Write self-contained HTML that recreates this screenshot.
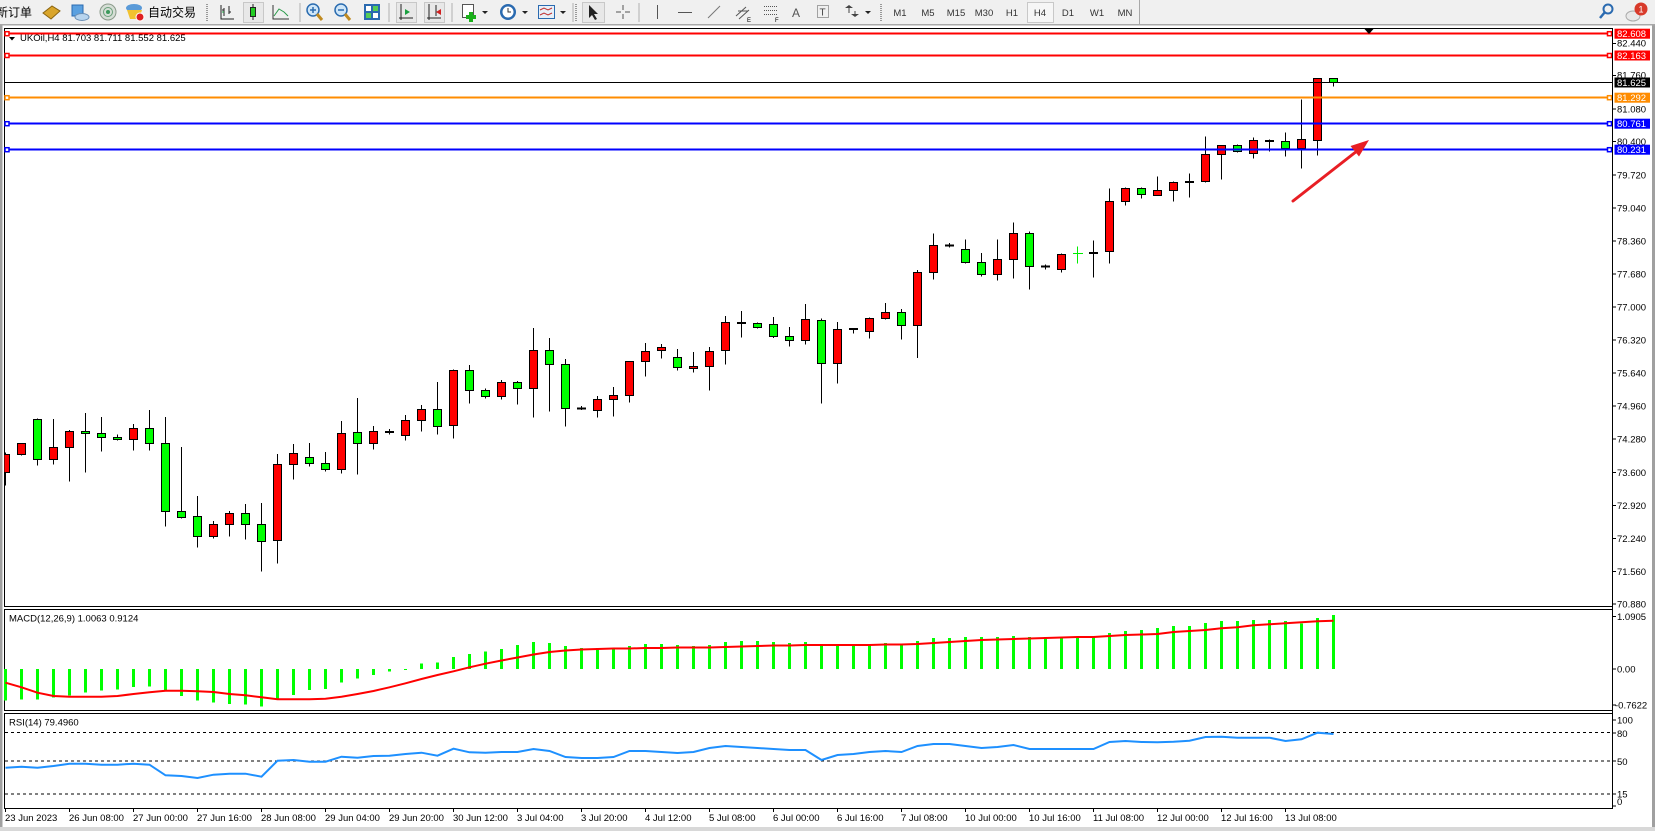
<!DOCTYPE html>
<html><head><meta charset="utf-8"><style>
html,body{margin:0;padding:0;width:1655px;height:831px;overflow:hidden;background:#fff}
svg{display:block}
text{font-family:"Liberation Sans","Noto Sans CJK SC",sans-serif;font-size:9.5px;fill:#000}
.tb{fill:#333}
.cjk{font-family:"Liberation Sans","Noto Sans CJK SC",sans-serif;font-size:12px;fill:#000}
</style></head><body>
<svg width="1655" height="831" viewBox="0 0 1655 831" xmlns="http://www.w3.org/2000/svg">
<defs><clipPath id="mc"><rect x="4.5" y="28.5" width="1608" height="578"/></clipPath></defs>
<!-- toolbar -->
<rect x="0" y="0" width="1655" height="25" fill="#f0f0f0"/>
<rect x="0" y="24" width="1655" height="1.5" fill="#a8a8a8"/>
<text class="cjk" x="-4" y="16.5">新订单</text>
<path d="M43 13L52 6L60 11L51 19Z" fill="#d9a52b" stroke="#8a6410"/>
<rect x="72" y="5" width="11" height="11" fill="#5aa0e0" stroke="#2a6ab0"/>
<ellipse cx="82" cy="17" rx="7" ry="3.5" fill="#b8d4ee" stroke="#6b8fb5"/>
<circle cx="108" cy="12" r="8" fill="#d6ded6" stroke="#8a9a8a"/><circle cx="108" cy="12" r="4.5" fill="none" stroke="#6aa07a"/><circle cx="108" cy="12" r="2" fill="#3a9a5a"/>
<ellipse cx="134" cy="8" rx="8" ry="4" fill="#5a9ad8"/><path d="M127 10h15l-3 9h-9z" fill="#f2c230"/><circle cx="140" cy="17" r="4" fill="#e02020" stroke="#fff"/>
<text class="cjk" x="148" y="16.5">自动交易</text>
<path d="M207 4v18" stroke="#999" stroke-dasharray="1 1" stroke-width="2"/>
<path d="M221 5V19H234M224 8V16M222 10h2M229 6V14M229 12h2" stroke="#222" fill="none"/><path d="M224 12h-2" stroke="#1aa040"/>
<rect x="243.5" y="2.5" width="20" height="20" fill="#e8e8e8" stroke="#c8c8c8"/>
<path d="M253 4V20" stroke="#222"/><rect x="250.5" y="7.5" width="5" height="9" fill="#22cc22" stroke="#222"/>
<path d="M273 5V19H289" stroke="#333" fill="none"/><path d="M274 16L279 9L284 12L288 16" stroke="#2a9a4a" fill="none"/>
<path d="M300 3v19" stroke="#b0b0b0"/>
<circle cx="313" cy="10" r="6" fill="#cfe6f8" stroke="#2b6cb0" stroke-width="1.5"/><path d="M317 14L322 20" stroke="#c08a20" stroke-width="3"/><path d="M310 10h6M313 7v6" stroke="#2b6cb0" stroke-width="1.5"/>
<circle cx="341" cy="10" r="6" fill="#cfe6f8" stroke="#2b6cb0" stroke-width="1.5"/><path d="M345 14L350 20" stroke="#c08a20" stroke-width="3"/><path d="M338 10h6" stroke="#2b6cb0" stroke-width="1.5"/>
<rect x="364" y="4" width="16" height="16" fill="#2a6ab0"/><rect x="366" y="6" width="5" height="5" fill="#fff"/><rect x="373" y="6" width="5" height="5" fill="#5c5"/><rect x="366" y="13" width="5" height="5" fill="#5c5"/><rect x="373" y="13" width="5" height="5" fill="#fff"/>
<path d="M389 3v19" stroke="#b0b0b0"/>
<rect x="396.5" y="2.5" width="20" height="20" fill="#e8e8e8" stroke="#c8c8c8"/>
<path d="M401 4V20M399 18h14" stroke="#222"/><path d="M405 9l5 3-5 3z" fill="#1aa040"/>
<rect x="424.5" y="2.5" width="20" height="20" fill="#e8e8e8" stroke="#c8c8c8"/>
<path d="M429 4V20M427 18h14M436 5v11" stroke="#222"/><path d="M441 9l-5 3 5 3z" fill="#d02020"/>
<path d="M452 3v19" stroke="#b0b0b0"/>
<rect x="462.5" y="4.5" width="11" height="13" fill="#fff" stroke="#555"/><path d="M471 12v10M466 17h10" stroke="#1ab01a" stroke-width="4"/>
<path d="M482 11h6l-3 3z" fill="#222"/>
<circle cx="508" cy="12" r="8" fill="#2a6ab0"/><circle cx="508" cy="12" r="5.5" fill="#fff"/><path d="M508 8v4h3" stroke="#333" fill="none"/>
<path d="M522 11h6l-3 3z" fill="#222"/>
<rect x="538.5" y="5.5" width="16" height="13" fill="#e8f0f8" stroke="#2a6ab0"/><path d="M540 10l4 -2 4 2 4-2M540 15l4-2 4 2 4-2" stroke="#c03030" fill="none"/>
<path d="M560 11h6l-3 3z" fill="#222"/>
<path d="M573 3v19" stroke="#b0b0b0"/><path d="M576 4v18" stroke="#999" stroke-dasharray="1 1" stroke-width="2"/>
<rect x="582.5" y="2.5" width="22" height="20" fill="#e8e8e8" stroke="#c8c8c8"/>
<path d="M589 5V18L592 15L595 20L597 19L594 14L598 14Z" fill="#222"/>
<path d="M623 5v5M623 14v5M616 12h5M625 12h5" stroke="#555"/>
<path d="M639 3v19" stroke="#b0b0b0"/>
<path d="M657.5 5v14" stroke="#555"/>
<path d="M678 12.5h14" stroke="#555"/>
<path d="M708 18L720 6" stroke="#777"/>
<path d="M736 16l10-9M739 19l10-9M738 11h10" stroke="#555" fill="none"/><text x="747" y="22" style="font-size:6px">E</text>
<path d="M764 6.5h14M764 10.5h14M764 14.5h14" stroke="#555" stroke-dasharray="1 1"/><text x="775" y="22" style="font-size:6px">F</text>
<text x="792" y="17" style="font-size:12px;fill:#555">A</text>
<rect x="817.5" y="5.5" width="11" height="12" fill="none" stroke="#555" stroke-dasharray="1 1"/><text x="819.5" y="15.5" style="font-size:10px;fill:#444">T</text>
<path d="M845 8l4-3 4 3zM851 14l4 3 4-3z" fill="#444"/><path d="M849 8v5M855 11v4" stroke="#444"/>
<path d="M865 11h6l-3 3z" fill="#222"/>
<path d="M881 4v18" stroke="#999" stroke-dasharray="1 1" stroke-width="2"/>
<text class="tb" x="900" y="16" text-anchor="middle">M1</text>
<text class="tb" x="928" y="16" text-anchor="middle">M5</text>
<text class="tb" x="956" y="16" text-anchor="middle">M15</text>
<text class="tb" x="984" y="16" text-anchor="middle">M30</text>
<text class="tb" x="1012" y="16" text-anchor="middle">H1</text>
<rect x="1027.5" y="2.5" width="26" height="20" fill="#f6f6f6" stroke="#c8c8c8"/>
<text class="tb" x="1040" y="16" text-anchor="middle">H4</text>
<text class="tb" x="1068" y="16" text-anchor="middle">D1</text>
<text class="tb" x="1097" y="16" text-anchor="middle">W1</text>
<text class="tb" x="1125" y="16" text-anchor="middle">MN</text>
<path d="M1139.5 0v24" stroke="#a8a8a8"/>
<circle cx="1608" cy="9" r="4.5" fill="none" stroke="#2a6ab0" stroke-width="2"/><path d="M1605 12L1600 18" stroke="#2a6ab0" stroke-width="2.5"/>
<ellipse cx="1633" cy="16" rx="7" ry="5" fill="#e8e8e8" stroke="#aaa"/><circle cx="1641" cy="9" r="6.5" fill="#d83a2a"/><text x="1641" y="12.5" text-anchor="middle" style="fill:#fff;font-size:9px">1</text>

<!-- window edges -->
<rect x="0" y="25.5" width="2.5" height="806" fill="#a0a0a0"/>
<rect x="1652" y="25.5" width="3" height="806" fill="#a0a0a0"/>
<rect x="0" y="827" width="1655" height="4" fill="#d8d8d8"/>

<!-- panel frames -->
<g fill="none" stroke="#000" stroke-width="1" shape-rendering="crispEdges">
<rect x="4.5" y="28.5" width="1608" height="578"/>
<rect x="4.5" y="609.5" width="1608" height="101"/>
<rect x="4.5" y="713.5" width="1608" height="95"/>
</g>

<!-- candles -->
<g clip-path="url(#mc)" shape-rendering="crispEdges">
<path stroke="#000" stroke-width="1" fill="none" d="M5.5 452.3V485.7M21.5 443.3V455.7M37.5 418.3V465.7M53.5 419V464.7M69.5 430V481.7M85.5 413V472.7M101.5 417V451.7M117.5 434.3V440.7M133.5 424V450.7M149.5 410V450.7M165.5 417V526.7M181.5 447V518.7M197.5 496V547.7M213.5 521V538.7M229.5 511V536.7M245.5 504V539.7M261.5 503V571.7M277.5 454V563.7M293.5 444V479.7M309.5 443V466.7M325.5 452V471.7M341.5 421V473.7M357.5 398V474.7M373.5 426V449.7M389.5 429V434.7M405.5 415V440.7M421.5 405V431.7M437.5 382V434.7M453.5 369.3V438.7M469.5 365V403.7M485.5 388.7V398.7M501.5 380V399.7M517.5 381V404.7M533.5 328V417.7M549.5 338V411.7M565.5 359V426.7M581.5 406V410M597.5 396V417.7M613.5 387V416.7M629.5 361.3V402.7M645.5 343V376.7M661.5 344V358.7M677.5 349V370.7M693.5 352V372.7M709.5 347V390.7M725.5 316V364.7M741.5 311V337.7M757.5 322.3V328.7M773.5 317V338M789.5 327V346.7M805.5 304V344.7M821.5 318.3V403.7M837.5 322V383.7M853.5 328.3V333.7M869.5 317.3V338.7M885.5 303V319.3M901.5 309V339.7M917.5 270V358M933.5 233.3V279.7M949.5 243V247.7M965.5 239.3V263.7M981.5 253V276.7M997.5 239.3V280.7M1013.5 222.3V278.7M1029.5 231.7V289.7M1045.5 264.3V269.3M1061.5 253.3V272.7M1093.5 240.3V277.7M1109.5 188.3V263.7M1125.5 187.3V205.7M1141.5 187.7V198.7M1157.5 176.3V195.3M1173.5 181.3V201.7M1189.5 173.3V197.7M1205.5 136.3V182.7M1221.5 145.3V179.7M1237.5 144.3V152.3M1253.5 137.3V158.7M1269.5 139.3V151.3M1285.5 132.3V156.7M1301.5 99.3V168.3M1317.5 78.3V155.7M1333.5 78.3V86.7"/>
<g fill="#ff0000" stroke="#000" stroke-width="1">
<rect x="1.5" y="454.3" width="8" height="18"/>
<rect x="17.5" y="443.3" width="8" height="11"/>
<rect x="49.5" y="447.3" width="8" height="12"/>
<rect x="65.5" y="431.3" width="8" height="16"/>
<rect x="129.5" y="428.3" width="8" height="11"/>
<rect x="209.5" y="524.3" width="8" height="12"/>
<rect x="225.5" y="513.3" width="8" height="11"/>
<rect x="273.5" y="464.3" width="8" height="76"/>
<rect x="289.5" y="453.3" width="8" height="11"/>
<rect x="337.5" y="433.3" width="8" height="36"/>
<rect x="369.5" y="431.3" width="8" height="12"/>
<rect x="401.5" y="420.3" width="8" height="15"/>
<rect x="417.5" y="409.3" width="8" height="11"/>
<rect x="449.5" y="370.3" width="8" height="55"/>
<rect x="497.5" y="382.3" width="8" height="14"/>
<rect x="529.5" y="350.3" width="8" height="38"/>
<rect x="593.5" y="399.3" width="8" height="11"/>
<rect x="609.5" y="395.3" width="8" height="4"/>
<rect x="625.5" y="361.3" width="8" height="34"/>
<rect x="641.5" y="351.3" width="8" height="10"/>
<rect x="657.5" y="347.3" width="8" height="3"/>
<rect x="689.5" y="366.3" width="8" height="2"/>
<rect x="705.5" y="351.3" width="8" height="15"/>
<rect x="721.5" y="322.3" width="8" height="28"/>
<rect x="801.5" y="319.3" width="8" height="21"/>
<rect x="833.5" y="329.3" width="8" height="34"/>
<rect x="865.5" y="318.3" width="8" height="13"/>
<rect x="881.5" y="312.3" width="8" height="6"/>
<rect x="913.5" y="272.3" width="8" height="53.4"/>
<rect x="929.5" y="245.3" width="8" height="27"/>
<rect x="993.5" y="259.3" width="8" height="15"/>
<rect x="1009.5" y="233.3" width="8" height="26"/>
<rect x="1057.5" y="254.3" width="8" height="15"/>
<rect x="1105.5" y="201.3" width="8" height="50"/>
<rect x="1121.5" y="188.3" width="8" height="13"/>
<rect x="1153.5" y="190.3" width="8" height="5"/>
<rect x="1169.5" y="182.3" width="8" height="8"/>
<rect x="1201.5" y="154.3" width="8" height="27"/>
<rect x="1217.5" y="145.3" width="8" height="9"/>
<rect x="1249.5" y="140.3" width="8" height="13"/>
<rect x="1297.5" y="139.3" width="8" height="9"/>
<rect x="1313.5" y="78.3" width="8" height="62"/>
</g>
<g fill="#00ff00" stroke="#000" stroke-width="1">
<rect x="33.5" y="419.3" width="8" height="40"/>
<rect x="81.5" y="431.3" width="8" height="2"/>
<rect x="97.5" y="433.3" width="8" height="4"/>
<rect x="113.5" y="437.3" width="8" height="2"/>
<rect x="145.5" y="428.3" width="8" height="15"/>
<rect x="161.5" y="443.3" width="8" height="68"/>
<rect x="177.5" y="511.3" width="8" height="6"/>
<rect x="193.5" y="516.3" width="8" height="20"/>
<rect x="241.5" y="513.3" width="8" height="11"/>
<rect x="257.5" y="524.3" width="8" height="17"/>
<rect x="305.5" y="457.3" width="8" height="6"/>
<rect x="321.5" y="463.3" width="8" height="6"/>
<rect x="353.5" y="432.3" width="8" height="11"/>
<rect x="433.5" y="409.3" width="8" height="17"/>
<rect x="465.5" y="370.3" width="8" height="20"/>
<rect x="481.5" y="390.3" width="8" height="6"/>
<rect x="513.5" y="382.3" width="8" height="6"/>
<rect x="545.5" y="350.3" width="8" height="14"/>
<rect x="561.5" y="364.3" width="8" height="44"/>
<rect x="673.5" y="357.3" width="8" height="10"/>
<rect x="753.5" y="323.3" width="8" height="4"/>
<rect x="769.5" y="324.3" width="8" height="12"/>
<rect x="785.5" y="336.3" width="8" height="4"/>
<rect x="817.5" y="320.3" width="8" height="43"/>
<rect x="897.5" y="312.3" width="8" height="13.4"/>
<rect x="961.5" y="249.3" width="8" height="13"/>
<rect x="977.5" y="262.3" width="8" height="12"/>
<rect x="1025.5" y="233.3" width="8" height="33"/>
<rect x="1137.5" y="188.3" width="8" height="6"/>
<rect x="1233.5" y="145.3" width="8" height="6"/>
<rect x="1281.5" y="141.3" width="8" height="7"/>
<rect x="1329.5" y="78.3" width="8" height="4"/>
</g>
<g fill="#000">
<rect x="385" y="431" width="9" height="2"/>
<rect x="577" y="407.5" width="9" height="2"/>
<rect x="737" y="322" width="9" height="2"/>
<rect x="849" y="328" width="9" height="2"/>
<rect x="945" y="244.5" width="9" height="2"/>
<rect x="1041" y="265.5" width="9" height="2"/>
<rect x="1089" y="252" width="9" height="2"/>
<rect x="1185" y="181" width="9" height="2"/>
<rect x="1265" y="140" width="9" height="2"/>
</g>
<path d="M1077.5 246.3V263.7M1073 253.5h10" stroke="#00ee00" stroke-width="1"/>

<!-- horizontal objects -->
<path d="M4 33.7H1612" stroke="#ff0000" stroke-width="2"/>
<path d="M4 55.5H1612" stroke="#ff0000" stroke-width="2"/>
<path d="M4 82.5H1612" stroke="#000" stroke-width="1"/>
<path d="M4 97.7H1612" stroke="#ff8c00" stroke-width="2"/>
<path d="M4 123.7H1612" stroke="#0000ff" stroke-width="2"/>
<path d="M4 149.7H1612" stroke="#0000ff" stroke-width="2"/>
</g>
<g fill="#fff" stroke-width="1.5">
<rect x="5" y="31.7" width="4" height="4" stroke="#ff0000"/>
<rect x="5" y="53.5" width="4" height="4" stroke="#ff0000"/>
<rect x="5" y="95.7" width="4" height="4" stroke="#ff8c00"/>
<rect x="5" y="121.7" width="4" height="4" stroke="#0000ff"/>
<rect x="5" y="147.7" width="4" height="4" stroke="#0000ff"/>
<rect x="1607.5" y="31.7" width="4" height="4" stroke="#ff0000"/>
<rect x="1607.5" y="53.5" width="4" height="4" stroke="#ff0000"/>
<rect x="1607.5" y="95.7" width="4" height="4" stroke="#ff8c00"/>
<rect x="1607.5" y="121.7" width="4" height="4" stroke="#0000ff"/>
<rect x="1607.5" y="147.7" width="4" height="4" stroke="#0000ff"/>
</g>

<!-- arrow and marker -->
<path d="M1293 201L1357 151" stroke="#e81e24" stroke-width="3" stroke-linecap="round"/>
<path d="M1369 140L1359 156.5L1350.5 146Z" fill="#e81e24"/>
<path d="M1364.5 29L1373.5 29L1369 34Z" fill="#000"/>

<!-- info text -->
<path d="M9 37h6l-3 3.5z" fill="#000"/>
<text x="20" y="41">UKOil,H4  81.703 81.711 81.552 81.625</text>

<!-- right axis -->
<path d="M1612.5 28V809" stroke="#000" stroke-width="1" shape-rendering="crispEdges"/>
<path stroke="#000" stroke-width="1" shape-rendering="crispEdges" d="M1613 43.5h3M1613 75.5h3M1613 109h3M1613 141.5h3M1613 175h3M1613 208h3M1613 241h3M1613 274h3M1613 307h3M1613 340h3M1613 373h3M1613 406h3M1613 439h3M1613 472.5h3M1613 505.5h3M1613 538.5h3M1613 571.5h3M1613 604h3M1613 616.5h3M1613 669h3M1613 705h3M1613 720h3M1613 733h3M1613 761h3M1613 794h3M1613 806h3"/>
<text x="1617" y="46.7">82.440</text>
<text x="1617" y="78.7">81.760</text>
<text x="1617" y="112.4">81.080</text>
<text x="1617" y="145">80.400</text>
<text x="1617" y="178.5">79.720</text>
<text x="1617" y="211.5">79.040</text>
<text x="1617" y="244.5">78.360</text>
<text x="1617" y="277.5">77.680</text>
<text x="1617" y="310.5">77.000</text>
<text x="1617" y="343.5">76.320</text>
<text x="1617" y="376.5">75.640</text>
<text x="1617" y="409.5">74.960</text>
<text x="1617" y="442.7">74.280</text>
<text x="1617" y="475.8">73.600</text>
<text x="1617" y="509">72.920</text>
<text x="1617" y="542">72.240</text>
<text x="1617" y="575">71.560</text>
<text x="1617" y="607.4">70.880</text>
<rect x="1614.5" y="28.7" width="35.5" height="10" fill="#ff0000"/><text x="1617" y="37.1" style="fill:#fff">82.608</text>
<rect x="1614.5" y="50.5" width="35.5" height="10" fill="#ff0000"/><text x="1617" y="58.9" style="fill:#fff">82.163</text>
<rect x="1614.5" y="77.5" width="35.5" height="10" fill="#000"/><text x="1617" y="85.9" style="fill:#fff">81.625</text>
<rect x="1614.5" y="92.7" width="35.5" height="10" fill="#ff8c00"/><text x="1617" y="101.1" style="fill:#fff">81.292</text>
<rect x="1614.5" y="118.7" width="35.5" height="10" fill="#0000ff"/><text x="1617" y="127.1" style="fill:#fff">80.761</text>
<rect x="1614.5" y="144.7" width="35.5" height="10" fill="#0000ff"/><text x="1617" y="153.1" style="fill:#fff">80.231</text>

<!-- MACD -->
<text x="9" y="621.5">MACD(12,26,9) 1.0063 0.9124</text>
<path stroke="#00ff00" stroke-width="3" fill="none" shape-rendering="crispEdges" d="M5.5 669V700.7M21.5 669V699.3M37.5 669V699.3M53.5 669V697.7M69.5 669V695.3M85.5 669V692.7M101.5 669V690.7M117.5 669V689.7M133.5 669V687M149.5 669V686.7M165.5 669V690.7M181.5 669V696M197.5 669V700.7M213.5 669V702.7M229.5 669V704M245.5 669V704.7M261.5 669V706.7M277.5 669V699.3M293.5 669V695M309.5 669V690M325.5 669V689M341.5 669V682.7M357.5 669V678.7M373.5 669V675M389.5 669V671.7M405.5 669V670.2M421.5 669V663.7M437.5 669V662.7M453.5 669V657M469.5 669V654M485.5 669V651.7M501.5 669V649M517.5 669V645M533.5 669V642M549.5 669V643M565.5 669V646M581.5 669V648M597.5 669V648M613.5 669V648M629.5 669V646M645.5 669V644M661.5 669V644M677.5 669V645M693.5 669V646M709.5 669V645M725.5 669V642M741.5 669V641M757.5 669V641M773.5 669V642M789.5 669V643M805.5 669V642M821.5 669V645M837.5 669V645M853.5 669V645M869.5 669V644M885.5 669V643M901.5 669V644M917.5 669V641M933.5 669V638M949.5 669V638M965.5 669V637M981.5 669V637M997.5 669V637M1013.5 669V636M1029.5 669V637M1045.5 669V637M1061.5 669V637M1077.5 669V637M1093.5 669V637M1109.5 669V633M1125.5 669V631M1141.5 669V630M1157.5 669V628M1173.5 669V626M1189.5 669V626M1205.5 669V623M1221.5 669V621M1237.5 669V621M1253.5 669V620M1269.5 669V620M1285.5 669V621M1301.5 669V623.3M1317.5 669V618M1333.5 669V615"/>
<polyline fill="none" stroke="#ff0000" stroke-width="2" points="5.5,682.7 21.5,687.3 37.5,692.7 53.5,696 69.5,696.7 85.5,696.7 101.5,696.7 117.5,696 133.5,694 149.5,692.3 165.5,690.7 181.5,690.7 197.5,691.3 213.5,692 229.5,694 245.5,695.3 261.5,697.3 277.5,699.3 293.5,699.3 309.5,699.3 325.5,698.7 341.5,696.7 357.5,694 373.5,691 389.5,687.3 405.5,683.3 421.5,679 437.5,675 453.5,671.3 469.5,667.3 485.5,663.7 501.5,660.5 517.5,657.5 533.5,654.5 549.5,652 565.5,650.5 581.5,649.5 597.5,649 613.5,648.5 629.5,648.5 645.5,648 661.5,648 677.5,647.5 693.5,647.5 709.5,647.5 725.5,647 741.5,646.5 757.5,646 773.5,645.5 789.5,645.5 805.5,645 821.5,645 837.5,645 853.5,645 869.5,645 885.5,644.5 901.5,644.5 917.5,644 933.5,643 949.5,642 965.5,641 981.5,640 997.5,639.5 1013.5,639 1029.5,638.5 1045.5,638 1061.5,637.5 1077.5,637 1093.5,637 1109.5,636 1125.5,635 1141.5,634.5 1157.5,634 1173.5,632 1189.5,631 1205.5,630 1221.5,628.3 1237.5,627.3 1253.5,625.3 1269.5,624.3 1285.5,623.3 1301.5,622.3 1317.5,621.3 1333.5,620.7"/>
<text x="1617" y="620">1.0905</text>
<text x="1617" y="672.4">0.00</text>
<text x="1615" y="708.5">-0.7622</text>

<!-- RSI -->
<text x="9" y="725.5">RSI(14) 79.4960</text>
<g stroke="#000" stroke-width="1" stroke-dasharray="3 3" shape-rendering="crispEdges">
<path d="M5 732.5H1612"/><path d="M5 761H1612"/><path d="M5 794H1612"/>
</g>
<polyline fill="none" stroke="#1e90ff" stroke-width="2" points="5.5,767.7 21.5,766.7 37.5,767.7 53.5,766 69.5,763.7 85.5,763.7 101.5,764.7 117.5,764.7 133.5,763.7 149.5,764.7 165.5,775.3 181.5,776 197.5,778 213.5,774.7 229.5,773.7 245.5,773.7 261.5,776.7 277.5,760.7 293.5,760 309.5,761.7 325.5,761.7 341.5,756.7 357.5,757.7 373.5,756 389.5,755.7 405.5,754 421.5,752.7 437.5,755.7 453.5,748.7 469.5,752.3 485.5,752.7 501.5,752 517.5,752 533.5,749 549.5,751 565.5,757 581.5,758 597.5,758 613.5,757 629.5,751 645.5,751 661.5,752 677.5,753 693.5,752 709.5,748 725.5,746 741.5,747 757.5,748 773.5,749 789.5,750 805.5,750 821.5,760 837.5,755 853.5,754 869.5,752 885.5,751 901.5,752 917.5,746 933.5,744 949.5,744 965.5,746 981.5,748 997.5,747 1013.5,745 1029.5,749 1045.5,749 1061.5,749 1077.5,749 1093.5,749 1109.5,742 1125.5,741 1141.5,742 1157.5,742.3 1173.5,741.7 1189.5,740.7 1205.5,737 1221.5,736.7 1237.5,737.7 1253.5,737.7 1269.5,737.7 1285.5,741 1301.5,739.3 1317.5,732.7 1333.5,734"/>
<text x="1617" y="723.4">100</text>
<text x="1617" y="737.2">80</text>
<text x="1617" y="764.8">50</text>
<text x="1617" y="797.6">15</text>
<text x="1617" y="805.2">0</text>

<!-- time axis -->
<path stroke="#000" stroke-width="1" shape-rendering="crispEdges" d="M5.5 809v3M69.5 809v3M133.5 809v3M197.5 809v3M261.5 809v3M325.5 809v3M389.5 809v3M453.5 809v3M517.5 809v3M581.5 809v3M645.5 809v3M709.5 809v3M773.5 809v3M837.5 809v3M901.5 809v3M965.5 809v3M1029.5 809v3M1093.5 809v3M1157.5 809v3M1221.5 809v3M1285.5 809v3"/>
<text x="5" y="821">23 Jun 2023</text>
<text x="69" y="821">26 Jun 08:00</text>
<text x="133" y="821">27 Jun 00:00</text>
<text x="197" y="821">27 Jun 16:00</text>
<text x="261" y="821">28 Jun 08:00</text>
<text x="325" y="821">29 Jun 04:00</text>
<text x="389" y="821">29 Jun 20:00</text>
<text x="453" y="821">30 Jun 12:00</text>
<text x="517" y="821">3 Jul 04:00</text>
<text x="581" y="821">3 Jul 20:00</text>
<text x="645" y="821">4 Jul 12:00</text>
<text x="709" y="821">5 Jul 08:00</text>
<text x="773" y="821">6 Jul 00:00</text>
<text x="837" y="821">6 Jul 16:00</text>
<text x="901" y="821">7 Jul 08:00</text>
<text x="965" y="821">10 Jul 00:00</text>
<text x="1029" y="821">10 Jul 16:00</text>
<text x="1093" y="821">11 Jul 08:00</text>
<text x="1157" y="821">12 Jul 00:00</text>
<text x="1221" y="821">12 Jul 16:00</text>
<text x="1285" y="821">13 Jul 08:00</text>
</svg>
</body></html>
